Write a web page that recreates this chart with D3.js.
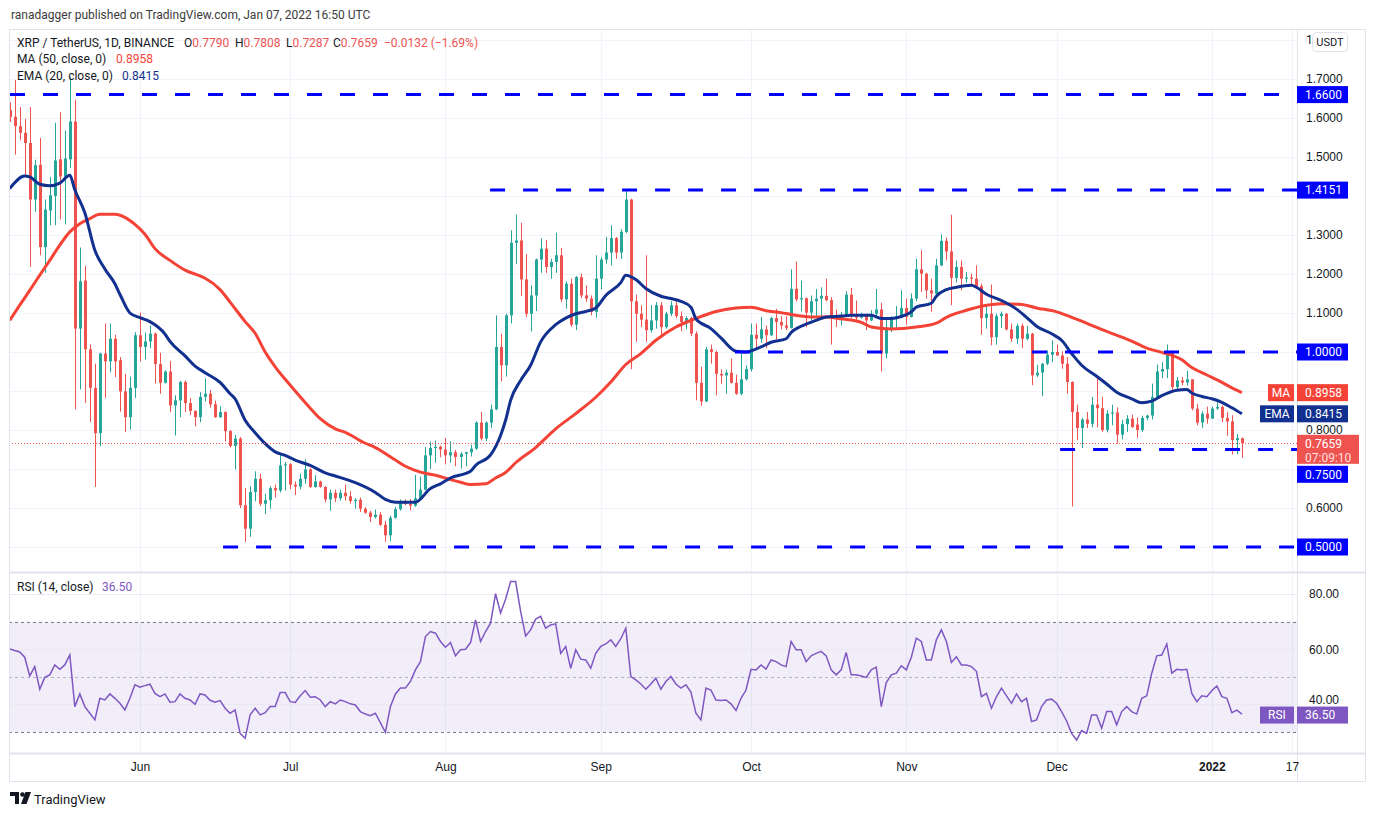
<!DOCTYPE html>
<html>
<head>
<meta charset="utf-8">
<script src="https://cdn.jsdelivr.net/npm/d3@7"></script>
<style>
  body { margin: 0; background: #fff; }
  svg { display: block; font-family: Roboto, "Liberation Sans", sans-serif; }
</style>
</head>
<body>
<script>
// XRP / TetherUS daily candles, 6 May 2021 .. 7 Jan 2022
const firstDay = Date.UTC(2021, 4, 6);

const opens = [
  1.620,1.603,1.579,1.562,1.536,1.391,1.480,1.269,1.363,1.400,
  1.494,1.450,1.494,1.591,1.060,1.183,1.007,0.908,0.792,0.996,
  0.976,1.034,0.979,0.899,0.833,0.908,1.043,1.013,1.027,1.047,
  0.969,0.921,0.950,0.863,0.876,0.923,0.869,0.849,0.833,0.885,
  0.893,0.866,0.833,0.846,0.797,0.759,0.778,0.607,0.547,0.641,
  0.675,0.611,0.620,0.651,0.645,0.709,0.712,0.660,0.655,0.675,
  0.699,0.654,0.668,0.654,0.622,0.639,0.625,0.639,0.630,0.618,
  0.621,0.598,0.588,0.577,0.583,0.557,0.530,0.575,0.597,0.615,
  0.610,0.606,0.625,0.647,0.735,0.754,0.757,0.750,0.735,0.743,
  0.731,0.739,0.743,0.752,0.819,0.778,0.819,0.853,1.013,0.966,
  1.094,1.280,1.286,1.186,1.098,1.145,1.237,1.265,1.218,1.231,
  1.248,1.135,1.175,1.070,1.192,1.145,1.137,1.103,1.188,1.237,
  1.255,1.292,1.255,1.308,1.391,1.130,1.098,1.083,1.056,1.081,
  1.120,1.064,1.098,1.120,1.092,1.077,1.087,1.047,0.921,0.873,
  1.007,1.000,0.944,0.940,0.947,0.921,0.893,0.930,0.956,1.044,
  1.034,1.058,1.043,1.087,1.077,1.068,1.062,1.162,1.135,1.138,
  1.101,1.130,1.137,1.144,1.133,1.092,1.085,1.095,1.147,1.092,
  1.088,1.094,1.081,1.098,1.109,0.996,1.062,1.088,1.092,1.113,
  1.090,1.137,1.212,1.201,1.158,1.150,1.222,1.285,1.258,1.190,
  1.218,1.188,1.191,1.188,1.169,1.087,1.098,1.038,1.092,1.098,
  1.058,1.034,1.067,1.034,1.047,0.940,0.947,0.970,0.993,1.000,
  0.991,0.970,0.923,0.846,0.805,0.827,0.816,0.865,0.856,0.800,
  0.842,0.845,0.788,0.815,0.829,0.814,0.800,0.831,0.837,0.885,
  0.950,0.956,1.000,0.910,0.927,0.922,0.930,0.855,0.819,0.842,
  0.829,0.855,0.859,0.831,0.822,0.774,0.7790
];
const highs = [
  1.640,1.697,1.628,1.598,1.628,1.493,1.549,1.391,1.449,1.588,
  1.615,1.568,1.706,1.647,1.268,1.221,1.019,0.970,0.998,1.073,
  1.073,1.044,0.987,0.944,0.937,1.051,1.101,1.050,1.068,1.050,
  0.998,0.953,0.977,0.889,0.926,0.927,0.882,0.850,0.897,0.932,
  0.903,0.875,0.861,0.848,0.800,0.788,0.782,0.651,0.656,0.694,
  0.688,0.637,0.656,0.660,0.737,0.718,0.715,0.668,0.688,0.725,
  0.702,0.684,0.670,0.656,0.647,0.647,0.647,0.660,0.643,0.625,
  0.627,0.602,0.593,0.596,0.589,0.567,0.580,0.603,0.622,0.622,
  0.623,0.685,0.680,0.756,0.770,0.773,0.760,0.780,0.771,0.749,
  0.743,0.744,0.762,0.822,0.846,0.822,0.865,1.094,1.047,1.098,
  1.312,1.352,1.331,1.251,1.171,1.240,1.291,1.287,1.239,1.306,
  1.267,1.181,1.188,1.195,1.201,1.171,1.145,1.248,1.244,1.295,
  1.325,1.295,1.315,1.417,1.393,1.147,1.120,1.248,1.120,1.128,
  1.128,1.103,1.130,1.135,1.104,1.092,1.090,1.053,0.962,1.013,
  1.019,1.004,0.955,0.955,0.983,0.942,0.998,0.966,1.073,1.073,
  1.090,1.068,1.090,1.111,1.092,1.092,1.212,1.232,1.183,1.140,
  1.145,1.162,1.166,1.188,1.141,1.109,1.103,1.156,1.164,1.132,
  1.101,1.098,1.107,1.162,1.126,1.086,1.092,1.118,1.158,1.137,
  1.150,1.239,1.261,1.203,1.188,1.239,1.301,1.294,1.352,1.235,
  1.235,1.205,1.201,1.222,1.175,1.121,1.173,1.098,1.104,1.100,
  1.073,1.073,1.073,1.067,1.049,0.967,0.972,1.004,1.030,1.019,
  1.002,0.987,0.925,0.865,0.831,0.846,0.885,0.940,0.885,0.851,
  0.865,0.858,0.826,0.838,0.839,0.832,0.837,0.839,0.919,0.968,
  0.974,1.019,1.004,0.936,0.936,0.952,0.930,0.867,0.848,0.860,
  0.860,0.871,0.863,0.846,0.838,0.790,0.7808
];
const lows = [
  1.590,1.506,1.543,1.453,1.218,1.359,1.248,1.203,1.325,1.325,
  1.340,1.327,1.472,0.853,0.904,0.869,0.820,0.654,0.759,0.882,
  0.948,0.936,0.847,0.795,0.802,0.882,0.976,0.981,1.010,0.919,
  0.893,0.919,0.846,0.786,0.833,0.846,0.838,0.809,0.820,0.873,
  0.857,0.831,0.831,0.771,0.755,0.699,0.600,0.513,0.526,0.617,
  0.605,0.584,0.598,0.627,0.640,0.645,0.648,0.633,0.648,0.662,
  0.651,0.652,0.652,0.615,0.593,0.615,0.619,0.619,0.611,0.598,
  0.590,0.585,0.564,0.573,0.554,0.513,0.515,0.573,0.593,0.607,
  0.594,0.603,0.620,0.645,0.700,0.716,0.730,0.712,0.716,0.707,
  0.701,0.707,0.732,0.749,0.773,0.771,0.805,0.851,0.925,0.937,
  1.073,1.226,1.144,1.089,1.053,1.105,1.203,1.203,1.188,1.203,
  1.128,1.111,1.065,1.056,1.138,1.128,1.094,1.088,1.161,1.226,
  1.222,1.239,1.239,1.305,0.956,1.026,1.064,1.026,1.050,1.060,
  1.039,1.060,1.092,1.087,1.053,1.058,1.041,0.876,0.862,0.872,
  0.970,0.889,0.919,0.893,0.919,0.890,0.889,0.927,0.950,1.010,
  1.024,1.010,1.041,1.032,1.058,1.056,1.060,1.130,1.104,1.064,
  1.081,1.090,1.092,1.130,1.019,1.064,1.068,1.092,1.087,1.079,
  1.085,1.056,1.079,1.090,0.950,0.983,1.051,1.062,1.087,1.070,
  1.088,1.130,1.154,1.137,1.103,1.147,1.220,1.235,1.120,1.178,
  1.158,1.178,1.169,1.167,1.044,1.060,1.017,1.019,1.062,1.055,
  1.026,1.021,1.010,1.030,0.915,0.936,0.887,0.966,0.974,0.990,
  0.957,0.893,0.604,0.774,0.754,0.805,0.807,0.807,0.795,0.794,
  0.812,0.765,0.776,0.795,0.805,0.780,0.795,0.825,0.827,0.880,
  0.933,0.933,0.898,0.900,0.914,0.914,0.850,0.812,0.805,0.816,
  0.829,0.852,0.820,0.785,0.737,0.738,0.7287
];
const closes = [
  1.603,1.579,1.562,1.536,1.391,1.479,1.269,1.365,1.402,1.491,
  1.450,1.496,1.591,1.060,1.181,1.007,0.908,0.792,0.996,0.976,
  1.034,0.976,0.899,0.833,0.908,1.043,1.013,1.027,1.047,0.969,
  0.921,0.950,0.863,0.876,0.923,0.869,0.849,0.833,0.885,0.893,
  0.866,0.833,0.846,0.797,0.759,0.778,0.607,0.547,0.641,0.675,
  0.611,0.620,0.651,0.645,0.709,0.712,0.660,0.655,0.675,0.699,
  0.654,0.668,0.654,0.622,0.639,0.625,0.639,0.630,0.618,0.621,
  0.598,0.588,0.577,0.583,0.557,0.530,0.575,0.597,0.615,0.610,
  0.606,0.625,0.647,0.735,0.754,0.757,0.750,0.735,0.743,0.731,
  0.739,0.743,0.752,0.819,0.778,0.819,0.853,1.013,0.966,1.094,
  1.280,1.286,1.186,1.098,1.145,1.237,1.265,1.218,1.231,1.248,
  1.135,1.175,1.070,1.192,1.145,1.137,1.103,1.188,1.237,1.255,
  1.292,1.255,1.308,1.391,1.130,1.098,1.083,1.056,1.081,1.120,
  1.064,1.098,1.120,1.092,1.077,1.087,1.047,0.921,0.873,1.007,
  1.000,0.944,0.940,0.947,0.921,0.893,0.930,0.956,1.044,1.034,
  1.058,1.043,1.087,1.077,1.068,1.062,1.162,1.135,1.138,1.101,
  1.130,1.137,1.144,1.133,1.092,1.085,1.095,1.147,1.092,1.088,
  1.094,1.081,1.098,1.109,0.996,1.062,1.088,1.092,1.113,1.090,
  1.137,1.212,1.201,1.158,1.150,1.222,1.285,1.258,1.190,1.218,
  1.188,1.191,1.188,1.169,1.087,1.098,1.038,1.092,1.098,1.058,
  1.034,1.067,1.034,1.047,0.940,0.947,0.970,0.993,1.000,0.991,
  0.970,0.923,0.846,0.805,0.827,0.816,0.865,0.856,0.800,0.842,
  0.845,0.788,0.815,0.829,0.808,0.800,0.831,0.837,0.885,0.950,
  0.956,1.000,0.910,0.927,0.922,0.930,0.855,0.819,0.842,0.829,
  0.855,0.859,0.831,0.822,0.774,0.7791,0.7659
];

// RSI(14) per day
const rsiValues = [
  60.1,59.5,59.0,57.1,50.3,53.7,45.5,49.8,50.7,54.3,
  52.7,54.3,57.9,39.2,43.8,39.2,36.8,34.4,42.2,41.6,
  43.8,42.2,40.4,38.0,42.2,47.1,46.2,46.8,47.3,44.0,
  42.8,43.8,40.8,41.0,43.8,42.2,41.6,40.0,43.8,43.4,
  41.5,40.8,41.4,38.6,36.8,38.0,29.5,27.7,36.2,38.6,
  36.2,37.0,39.2,39.2,44.3,44.3,41.0,40.7,43.1,45.0,
  42.6,42.8,41.6,39.2,41.0,40.2,41.6,41.0,40.2,39.8,
  37.4,36.5,35.9,36.8,33.4,29.9,39.2,43.8,45.9,45.9,
  48.3,52.5,55.5,64.6,66.4,65.8,62.8,60.7,62.4,57.6,
  59.8,60.0,62.4,70.6,62.8,66.4,69.4,80.1,73.1,78.1,
  84.5,84.5,73.7,64.8,67.0,70.9,71.9,67.6,68.8,69.2,
  58.5,61.0,53.1,59.8,56.4,56.1,53.1,58.5,61.0,61.9,
  63.4,61.0,63.8,67.6,50.1,48.9,47.4,45.5,47.4,49.5,
  45.5,48.3,50.1,47.4,45.9,47.1,44.5,36.8,34.4,45.9,
  45.2,41.6,41.4,41.6,40.2,37.8,42.2,45.2,52.7,52.5,
  54.3,52.8,56.1,55.5,54.3,53.7,62.8,59.8,59.8,55.5,
  57.6,58.5,59.2,57.6,52.5,50.7,52.5,58.8,50.7,50.7,
  50.3,49.8,52.5,53.5,39.2,47.9,50.7,51.3,54.0,52.5,
  57.1,64.0,62.8,56.1,56.1,63.4,67.0,62.8,55.2,57.3,
  54.3,54.3,53.7,52.0,42.8,44.0,38.6,42.8,45.9,43.1,
  40.4,43.8,41.0,42.2,33.8,34.4,39.2,41.6,41.9,40.4,
  37.4,34.0,29.5,27.1,30.5,29.5,36.2,36.2,31.4,37.4,
  37.4,32.6,37.4,39.2,37.4,36.5,42.2,43.1,51.3,57.6,
  57.9,61.9,51.3,52.7,52.5,52.7,44.0,41.0,43.1,42.8,
  45.0,46.7,42.8,42.2,37.0,37.9,36.5
];

// [day index, value]
const maPoints = [
  [0,1.081],[2,1.120],[4,1.158],[6,1.197],[8,1.235],[10,1.274],[12,1.308],[14,1.329],[16,1.342],[18,1.353],
  [21,1.353],[23,1.345],[25,1.327],[27,1.302],[29,1.265],[32,1.235],[35,1.210],[38,1.195],[39,1.189],[42,1.160],
  [44,1.128],[47,1.078],[49,1.048],[51,1.000],[53,0.962],[55,0.930],[57,0.900],[60,0.856],[62,0.829],[65,0.803],
  [67,0.794],[71,0.766],[73,0.755],[77,0.723],[79,0.707],[82,0.692],[85,0.684],[88,0.673],[90,0.666],[92,0.660],
  [95,0.662],[97,0.677],[99,0.691],[101,0.716],[105,0.755],[109,0.803],[113,0.842],[117,0.884],[120,0.923],[123,0.968],
  [126,0.996],[129,1.030],[133,1.064],[137,1.086],[141,1.104],[145,1.113],[148,1.115],[151,1.106],[154,1.101],[156,1.096],
  [160,1.090],[163,1.090],[166,1.085],[170,1.076],[172,1.064],[176,1.059],[181,1.064],[185,1.074],[187,1.089],[191,1.107],
  [195,1.120],[198,1.124],[202,1.122],[205,1.113],[209,1.103],[211,1.094],[214,1.079],[217,1.063],[220,1.048],[224,1.028],
  [227,1.010],[230,0.999],[234,0.980],[236,0.960],[239,0.941],[242,0.922],[244,0.908],[246,0.8958]
];
const emaPoints = [
  [0,1.419],[3,1.451],[4,1.449],[6,1.430],[8,1.426],[10,1.433],[12,1.453],[13,1.416],[15,1.357],[17,1.261],
  [19,1.213],[21,1.175],[22,1.148],[24,1.100],[26,1.088],[28,1.078],[31,1.046],[32,1.027],[35,0.990],[37,0.964],
  [39,0.947],[42,0.922],[44,0.893],[45,0.880],[47,0.825],[49,0.793],[51,0.765],[53,0.744],[55,0.735],[57,0.723],
  [60,0.709],[63,0.690],[65,0.682],[69,0.665],[73,0.640],[75,0.622],[77,0.615],[81,0.615],[84,0.650],[86,0.662],
  [88,0.677],[92,0.694],[93,0.709],[96,0.736],[98,0.786],[99,0.825],[100,0.876],[102,0.927],[104,0.966],[106,1.026],
  [109,1.070],[111,1.087],[113,1.098],[115,1.104],[117,1.113],[119,1.145],[122,1.178],[123,1.197],[125,1.186],[127,1.163],
  [130,1.143],[132,1.137],[134,1.130],[136,1.115],[137,1.085],[140,1.060],[142,1.036],[145,1.002],[147,1.000],[150,1.013],
  [152,1.025],[155,1.034],[156,1.050],[158,1.066],[161,1.081],[163,1.090],[166,1.092],[168,1.094],[172,1.094],[174,1.086],
  [176,1.086],[178,1.091],[180,1.103],[181,1.115],[184,1.125],[185,1.143],[187,1.160],[189,1.166],[192,1.171],[193,1.166],
  [195,1.148],[198,1.132],[201,1.110],[203,1.089],[205,1.066],[208,1.047],[210,1.030],[212,0.996],[214,0.966],[217,0.938],
  [219,0.918],[221,0.897],[224,0.880],[226,0.870],[228,0.874],[230,0.888],[233,0.902],[235,0.904],[236,0.895],[238,0.886],
  [240,0.880],[242,0.871],[244,0.857],[246,0.8415]
];

// horizontal levels drawn on the chart, and the day index where each starts
const levelValues = [1.6600, 1.4151, 1.0000, 0.7500, 0.5000];
const levelStartIdx = [0.06, 95.9, 144.8, 209.7, 42.6];

const priceTicks = [0.5,0.6,0.7,0.8,0.9,1.0,1.1,1.2,1.3,1.4,1.5,1.6,1.7,1.8];
const rsiTicks = [40, 60, 80];
const timeTicks = ["2021-06-01","2021-07-01","2021-08-01","2021-09-01","2021-10-01",
                   "2021-11-01","2021-12-01","2022-01-01","2022-01-17"];
const timeLabels = ["Jun","Jul","Aug","Sep","Oct","Nov","Dec","2022","17"];

// ---------------------------------------------------------------------------
(function() {
  const W = 1374, H = 816;
  const xL = 9, xR = 1297, xAxisR = 1365;
  const yTop = 29, ySplit = 572, yRsiBot = 753, yBot = 781;

  const UP = '#26a69a', DOWN = '#ef5350';
  const MA_COL = '#f44336', EMA_COL = '#11308f', RSI_COL = '#7e57c2', LEVEL_COL = '#0000ff';
  const GRID = '#f0f3fa', BORDER = '#e0e3eb', TEXT = '#131722';

  const dayMs = 864e5;
  const dateOf = i => new Date(firstDay + i * dayMs);

  const candles = closes.map((c, i) => ({
    i, date: dateOf(i), o: opens[i], h: highs[i], l: lows[i], c
  }));
  const last = candles[candles.length - 1];
  const prev = candles[candles.length - 2];
  const maLast = maPoints[maPoints.length - 1][1];
  const emaLast = emaPoints[emaPoints.length - 1][1];
  const rsiLast = rsiValues[rsiValues.length - 1];

  const x = d3.scaleUtc()
    .domain([new Date(firstDay), new Date(Date.UTC(2022, 0, 17))])
    .range([9.7, 1292]);
  const xi = i => x(dateOf(i));

  const y = d3.scaleLinear().domain([0.5, 1.7]).range([547, 79]);
  const yr = d3.scaleLinear().domain([30, 80]).range([732, 594]);

  const svg = d3.select('body').append('svg')
    .attr('width', W)
    .attr('height', H);

  const defs = svg.append('defs');
  defs.append('clipPath').attr('id', 'clipPrice')
    .append('rect').attr('x', xL + 1).attr('y', yTop + 1)
    .attr('width', xR - xL - 1).attr('height', ySplit - yTop - 1);
  defs.append('clipPath').attr('id', 'clipRsi')
    .append('rect').attr('x', xL + 1).attr('y', ySplit + 1)
    .attr('width', xR - xL - 1).attr('height', yRsiBot - ySplit - 1);
  defs.append('clipPath').attr('id', 'clipUnit')
    .append('rect').attr('x', xR).attr('y', 0).attr('width', 15).attr('height', 60);

  // publisher line
  svg.append('text')
    .attr('x', 11).attr('y', 19)
    .attr('font-size', 12).attr('fill', '#3b3b3b')
    .text('ranadagger published on TradingView.com, Jan 07, 2022 16:50 UTC');

  // grid
  const grid = svg.append('g');
  grid.append('g').attr('clip-path', 'url(#clipPrice)')
    .selectAll('line').data(priceTicks).join('line')
    .attr('x1', xL).attr('x2', xR)
    .attr('y1', d => Math.round(y(d)) + 0.5).attr('y2', d => Math.round(y(d)) + 0.5)
    .attr('stroke', GRID);
  grid.selectAll('line.v').data(timeTicks).join('line')
    .attr('class', 'v')
    .attr('x1', d => Math.round(x(new Date(d))) + 0.5)
    .attr('x2', d => Math.round(x(new Date(d))) + 0.5)
    .attr('y1', yTop).attr('y2', yRsiBot)
    .attr('stroke', GRID);

  // rsi pane background, grid and bands
  const rsiG = svg.append('g').attr('clip-path', 'url(#clipRsi)');
  rsiG.append('rect')
    .attr('x', xL).attr('width', xR - xL)
    .attr('y', yr(70)).attr('height', yr(30) - yr(70))
    .attr('fill', RSI_COL).attr('fill-opacity', 0.1);
  rsiG.selectAll('line.g').data(rsiTicks).join('line')
    .attr('class', 'g')
    .attr('x1', xL).attr('x2', xR)
    .attr('y1', d => Math.round(yr(d)) + 0.5).attr('y2', d => Math.round(yr(d)) + 0.5)
    .attr('stroke', '#ebe8f2');
  rsiG.selectAll('line.b').data([70, 50, 30]).join('line')
    .attr('class', 'b')
    .attr('x1', xL).attr('x2', xR)
    .attr('y1', d => Math.round(yr(d)) + 0.5).attr('y2', d => Math.round(yr(d)) + 0.5)
    .attr('stroke', '#787b86')
    .attr('stroke-opacity', d => d === 50 ? 0.5 : 1)
    .attr('stroke-dasharray', '3,3');

  // candles
  const priceG = svg.append('g').attr('clip-path', 'url(#clipPrice)');
  const candleG = priceG.selectAll('g.c').data(candles).join('g').attr('class', 'c');
  candleG.append('line')
    .attr('x1', d => Math.round(xi(d.i)) + 0.5)
    .attr('x2', d => Math.round(xi(d.i)) + 0.5)
    .attr('y1', d => y(d.h)).attr('y2', d => y(d.l))
    .attr('stroke', d => d.c >= d.o ? UP : DOWN);
  candleG.append('rect')
    .attr('x', d => Math.round(xi(d.i)) - 1)
    .attr('width', 3)
    .attr('y', d => y(Math.max(d.o, d.c)))
    .attr('height', d => Math.max(1, Math.abs(y(d.o) - y(d.c))))
    .attr('fill', d => d.c >= d.o ? UP : DOWN);

  // moving averages
  const avgLine = d3.line()
    .x(d => xi(d[0]))
    .y(d => y(d[1]))
    .curve(d3.curveMonotoneX);
  priceG.append('path').datum(maPoints)
    .attr('d', avgLine).attr('fill', 'none')
    .attr('stroke', MA_COL).attr('stroke-width', 3).attr('stroke-linejoin', 'round');
  priceG.append('path').datum(emaPoints)
    .attr('d', avgLine).attr('fill', 'none')
    .attr('stroke', EMA_COL).attr('stroke-width', 3).attr('stroke-linejoin', 'round');

  // author's dashed levels
  priceG.selectAll('line.lvl').data(levelValues).join('line')
    .attr('class', 'lvl')
    .attr('x1', (d, i) => xi(levelStartIdx[i])).attr('x2', xR)
    .attr('y1', d => y(d)).attr('y2', d => y(d))
    .attr('stroke', LEVEL_COL).attr('stroke-width', 3)
    .attr('stroke-dasharray', '15,18');

  // last price line
  priceG.append('line')
    .attr('x1', xL).attr('x2', xR)
    .attr('y1', Math.round(y(last.c)) + 0.5).attr('y2', Math.round(y(last.c)) + 0.5)
    .attr('stroke', DOWN).attr('stroke-dasharray', '1,2');

  // rsi line
  rsiG.append('path').datum(rsiValues)
    .attr('d', d3.line().x((d, i) => xi(i)).y(d => yr(d)))
    .attr('fill', 'none').attr('stroke', RSI_COL).attr('stroke-width', 1.5);

  // frame
  const frame = svg.append('g').attr('stroke', BORDER).attr('fill', 'none');
  frame.append('rect').attr('x', xL + 0.5).attr('y', yTop + 0.5)
    .attr('width', xAxisR - xL).attr('height', yBot - yTop);
  frame.append('line').attr('x1', xL).attr('x2', xAxisR)
    .attr('y1', ySplit + 0.5).attr('y2', ySplit + 0.5).attr('stroke-width', 2);
  frame.append('line').attr('x1', xL).attr('x2', xAxisR)
    .attr('y1', yRsiBot + 0.5).attr('y2', yRsiBot + 0.5).attr('stroke-width', 2);
  frame.append('line').attr('x1', xR + 0.5).attr('x2', xR + 0.5)
    .attr('y1', yTop).attr('y2', yBot);

  // badge positions on the price scale; a level badge that would sit under the
  // last-price badge is pushed just below it, as the chart does
  const priceBadgeTop = y(last.c) - 8.5, priceBadgeBot = y(last.c) + 20.5;
  const levelBadgeY = levelValues.map(v => {
    const c = y(v);
    return (c + 8.5 > priceBadgeTop && c - 8.5 < priceBadgeBot) ? priceBadgeBot + 10.5 : c;
  });
  const covered = levelBadgeY.concat([y(maLast), y(emaLast)]).map(c => [c - 8.5, c + 8.5])
    .concat([[priceBadgeTop, priceBadgeBot]]);
  const isFree = v => covered.every(([a, b]) => y(v) + 4.5 < a || y(v) - 4.5 > b);

  // price axis
  const priceAxis = svg.append('g')
    .attr('transform', `translate(${xR},0)`)
    .call(d3.axisRight(y).tickValues(priceTicks.filter(v => v < 1.75 && isFree(v)))
      .tickFormat(d3.format('.4f')).tickSize(0).tickPadding(9));
  priceAxis.select('.domain').remove();
  priceAxis.selectAll('text').attr('font-size', 12).attr('fill', TEXT).attr('font-family', null);

  // top label, mostly hidden under the unit badge
  svg.append('text').attr('clip-path', 'url(#clipUnit)')
    .attr('x', xR + 9).attr('y', y(1.8) + 4.3)
    .attr('font-size', 12).attr('fill', TEXT).text(d3.format('.4f')(1.8));

  // rsi axis
  const rsiAxis = svg.append('g')
    .attr('transform', `translate(${xR},0)`)
    .call(d3.axisRight(yr).tickValues(rsiTicks).tickFormat(d3.format('.2f')).tickSize(0).tickPadding(12));
  rsiAxis.select('.domain').remove();
  rsiAxis.selectAll('text').attr('font-size', 12).attr('fill', TEXT).attr('font-family', null)
    .attr('dy', d => d === 40 ? '-0.05em' : '0.32em');

  // time axis
  const timeAxis = svg.append('g')
    .attr('transform', `translate(0,${yRsiBot})`)
    .call(d3.axisBottom(x).tickValues(timeTicks.map(d => new Date(d)))
      .tickFormat((d, i) => timeLabels[i]).tickSize(0).tickPadding(9));
  timeAxis.select('.domain').remove();
  timeAxis.selectAll('text')
    .attr('font-size', 12).attr('fill', TEXT).attr('font-family', null)
    .attr('font-weight', (d, i) => timeLabels[i] === '2022' ? 'bold' : null);

  // USDT unit badge
  svg.append('rect').attr('x', 1312.5).attr('y', 32.5).attr('width', 35).attr('height', 19)
    .attr('rx', 4).attr('fill', '#fff').attr('stroke', BORDER);
  svg.append('text').attr('x', 1330).attr('y', 46).attr('text-anchor', 'middle')
    .attr('font-size', 11).attr('fill', TEXT).text('USDT');

  // axis badges
  function badge(yPos, h, fill, label, sub) {
    const g = svg.append('g');
    g.append('rect').attr('x', xR).attr('y', yPos - 8.5).attr('width', sub ? 62 : 51)
      .attr('height', h).attr('fill', fill);
    g.append('text').attr('x', xR + 8).attr('y', yPos + 4.3)
      .attr('font-size', 12).attr('fill', '#fff').text(label);
    if (sub) {
      g.append('text').attr('x', xR + 8).attr('y', yPos + 19)
        .attr('font-size', 12).attr('fill', '#fff').attr('fill-opacity', 0.85).text(sub);
    }
  }
  function nameTag(yPos, fill, label) {
    const w = label.length * 8 + 10;
    svg.append('rect').attr('x', xR - w - 3).attr('y', yPos - 8.5).attr('width', w)
      .attr('height', 17).attr('fill', fill);
    svg.append('text').attr('x', xR - 3 - w / 2).attr('y', yPos + 4.3).attr('text-anchor', 'middle')
      .attr('font-size', 12).attr('fill', '#fff').text(label);
  }

  levelValues.forEach((v, i) => badge(levelBadgeY[i], 17, LEVEL_COL, d3.format('.4f')(v)));
  badge(y(last.c), 29, '#ef5350', d3.format('.4f')(last.c), '07:09:10');
  badge(y(maLast), 17, MA_COL, d3.format('.4f')(maLast));
  nameTag(y(maLast), MA_COL, 'MA');
  badge(y(emaLast), 17, EMA_COL, d3.format('.4f')(emaLast));
  nameTag(y(emaLast), EMA_COL, 'EMA');
  badge(yr(rsiLast) + 1, 17, RSI_COL, d3.format('.2f')(rsiLast));
  nameTag(yr(rsiLast) + 1, RSI_COL, 'RSI');

  // legends
  const legend = svg.append('g').attr('font-size', 12).attr('fill', TEXT);
  const l1 = legend.append('text').attr('y', 46.5);
  l1.append('tspan').attr('x', 17).text('XRP / TetherUS, 1D, BINANCE');
  [['O', last.o, 184], ['H', last.h, 235], ['L', last.l, 286], ['C', last.c, 333]].forEach(([k, v, px]) => {
    l1.append('tspan').attr('x', px).text(k);
    l1.append('tspan').attr('fill', DOWN).text(d3.format('.4f')(v));
  });
  const change = last.c - prev.c;
  l1.append('tspan').attr('x', 384).attr('fill', DOWN)
    .text(`\u2212${d3.format('.4f')(Math.abs(change))} (\u2212${d3.format('.2f')(Math.abs(change) / prev.c * 100)}%)`);

  const l2 = legend.append('text').attr('y', 63);
  l2.append('tspan').attr('x', 17).text('MA (50, close, 0)');
  l2.append('tspan').attr('x', 116).attr('fill', MA_COL).text(d3.format('.4f')(maLast));
  const l3 = legend.append('text').attr('y', 79.5);
  l3.append('tspan').attr('x', 17).text('EMA (20, close, 0)');
  l3.append('tspan').attr('x', 122).attr('fill', EMA_COL).text(d3.format('.4f')(emaLast));

  const l4 = legend.append('text').attr('y', 591);
  l4.append('tspan').attr('x', 17).text('RSI (14, close)');
  l4.append('tspan').attr('x', 102).attr('fill', RSI_COL).text(d3.format('.2f')(rsiLast));

  // TradingView mark
  const logo = svg.append('g').attr('transform', 'translate(10,792)').attr('fill', TEXT);
  logo.append('path').attr('d', 'M0,0 H9 V12 H5 V4 H0 Z');
  logo.append('circle').attr('cx', 12.5).attr('cy', 2.5).attr('r', 2.3);
  logo.append('path').attr('d', 'M15.5,0 H21 L16.5,12 H11 Z');
  svg.append('text').attr('x', 34).attr('y', 803.5)
    .attr('font-size', 13).attr('fill', TEXT).text('TradingView');
})();
</script>
</body>
</html>
